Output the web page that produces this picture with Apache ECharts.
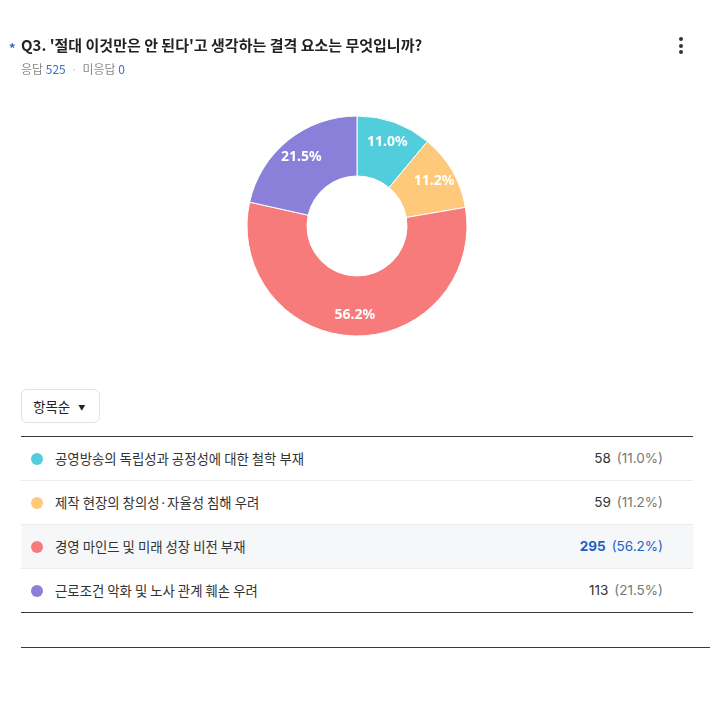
<!DOCTYPE html>
<html>
<head>
<meta charset="utf-8">
<script src="https://cdn.jsdelivr.net/npm/echarts@6/dist/echarts.min.js"></script>
<style>
  html, body { margin:0; padding:0; background:#fff; }
  body { width:710px; height:701px; position:relative; overflow:hidden;
         font-family:"Noto Sans CJK KR","Noto Sans",sans-serif; color:#222; }
  #chart { position:absolute; left:0; top:0; width:710px; height:380px; }
  .star { position:absolute; left:9px; top:38px; color:#2f6ad6; font-size:13px; font-weight:700; }
  .title { position:absolute; left:21px; top:34px; font-size:15px; font-weight:700; color:#222; white-space:nowrap; }
  .sub { position:absolute; left:21px; top:60px; font-size:12px; color:#8a8a8a; white-space:nowrap; }
  .sub b { font-weight:400; color:#3b6fce; }
  .sub .dot { color:#c8c8c8; margin:0 5px; }
  .kebab { position:absolute; left:679px; top:37px; width:4px; }
  .kebab i { display:block; width:4px; height:4px; border-radius:2px; background:#333; margin-bottom:2.5px; }
  .btn { position:absolute; left:21px; top:389px; width:79px; height:34px; box-sizing:border-box;
         border:1px solid #e3e3e3; border-radius:6px; font-size:13.5px; color:#222; line-height:32px; padding-left:11px; }
  .btn span { font-size:7px; margin-left:8px; position:relative; top:-2px; }
  .table { position:absolute; left:21px; top:436px; width:672px; border-top:1px solid #3a3a3a; border-bottom:1px solid #3a3a3a; }
  .row { height:43px; border-bottom:1px solid #ececec; position:relative; font-size:13.4px; }
  .row:last-child { border-bottom:none; }
  .row.hl { background:#f6f7f9; }
  .row .c { position:absolute; left:10px; top:16px; width:12px; height:12px; border-radius:6px; }
  .row .t { position:absolute; left:34px; top:0; line-height:43px; color:#333; white-space:nowrap; }
  .row .v { position:absolute; right:30px; top:0; line-height:43px; white-space:nowrap; color:#333; font-family:"Inter","Noto Sans",sans-serif; font-size:13.5px; }
  .row .v .p { color:#777; margin-left:6px; }
  .row.hl .v .n { color:#1f5fc6; font-weight:700; }
  .row.hl .v .p { color:#1f5fc6; }
  .bottomline { position:absolute; left:21px; top:647px; width:689px; height:1px; background:#3a3a3a; }
</style>
</head>
<body>
<div id="chart"></div>
<div class="star">*</div>
<div class="title">Q3. '절대 이것만은 안 된다'고 생각하는 결격 요소는 무엇입니까?</div>
<div class="sub">응답 <b id="resp"></b><span class="dot">·</span>미응답 <b>0</b></div>
<div class="kebab"><i></i><i></i><i></i></div>
<div class="btn">항목순<span>▼</span></div>
<div class="table" id="table"></div>
<div class="bottomline"></div>
<script>
const categories = [
  "공영방송의 독립성과 공정성에 대한 철학 부재",
  "제작 현장의 창의성·자율성 침해 우려",
  "경영 마인드 및 미래 성장 비전 부재",
  "근로조건 악화 및 노사 관계 훼손 우려"
];
const counts = [58, 59, 295, 113];
const colors = ["#52CDDC", "#FEC97B", "#F87B7B", "#8B80D9"];
const highlightIndex = 2;

const total = counts.reduce((a, b) => a + b, 0);
const pct = v => (v / total * 100).toFixed(1) + "%";
document.getElementById("resp").textContent = total;

const table = document.getElementById("table");
categories.forEach((c, i) => {
  const row = document.createElement("div");
  row.className = "row" + (i === highlightIndex ? " hl" : "");
  row.innerHTML = '<div class="c" style="background:' + colors[i] + '"></div>' +
    '<div class="t">' + c + '</div>' +
    '<div class="v"><span class="n">' + counts[i] + '</span><span class="p">(' + pct(counts[i]) + ')</span></div>';
  table.appendChild(row);
});

const data = categories.map((c, i) => ({ name: c, value: counts[i], itemStyle: { color: colors[i] } }));
const chart = echarts.init(document.getElementById("chart"), null, { renderer: "canvas" });
chart.setOption({
  animation: false,
  series: [
    {
      type: "pie",
      center: [357, 226],
      radius: [50, 110],
      startAngle: 90,
      clockwise: true,
      data: data,
      itemStyle: { borderColor: "#fff", borderWidth: 1 },
      label: { show: false },
      labelLine: { show: false },
      emphasis: { disabled: true }
    },
    {
      type: "pie",
      center: [357, 226],
      radius: [0, 172],
      startAngle: 90,
      clockwise: true,
      silent: true,
      data: categories.map((c, i) => ({ name: c, value: counts[i] })),
      itemStyle: { color: "rgba(0,0,0,0)" },
      label: {
        show: true,
        position: "inside",
        formatter: p => pct(p.value),
        color: "#fff",
        fontSize: 14,
        fontWeight: "bold",
        fontFamily: "Noto Sans"
      },
      labelLine: { show: false },
      emphasis: { disabled: true }
    }
  ]
});
</script>
</body>
</html>
